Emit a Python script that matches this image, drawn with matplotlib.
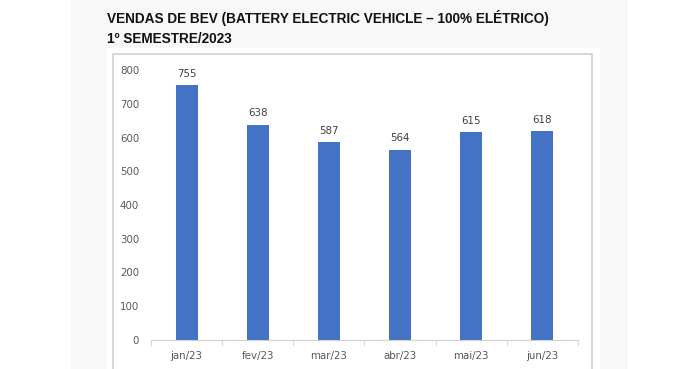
import matplotlib.pyplot as plt
from matplotlib.patches import Rectangle

months = ['jan/23', 'fev/23', 'mar/23', 'abr/23', 'mai/23', 'jun/23']
sales = [755, 638, 587, 564, 615, 618]
y_ticks = [0, 100, 200, 300, 400, 500, 600, 700, 800]

W, H = 700, 369
fig = plt.figure(figsize=(W / 100, H / 100), dpi=100)


def px_rect(x0, y0, x1, y1, **kw):
  # rectangle given in image pixels (top-left origin)
  return Rectangle((x0 / W, 1 - y1 / H), (x1 - x0) / W, (y1 - y0) / H,
                   transform=fig.transFigure, figure=fig, **kw)


# page background bands
fig.patches.append(px_rect(71, 0, 628, H, facecolor='#f8f8f8', edgecolor='none', zorder=-3))
fig.patches.append(px_rect(107, 48, 600, H + 5, facecolor='white', edgecolor='none', zorder=-2))
fig.patches.append(px_rect(113, 54, 592, H + 5, facecolor='white', edgecolor='#d0d0d0', linewidth=1.2, zorder=-1))

fig.text(107 / W, 1 - 18 / H, 'VENDAS DE BEV (BATTERY ELECTRIC VEHICLE – 100% ELÉTRICO)',
         fontfamily='Liberation Sans', fontweight='bold', fontsize=9.85, color='#111111', va='center')
fig.text(107 / W, 1 - 39 / H, '1º SEMESTRE/2023',
         fontfamily='Liberation Sans', fontweight='bold', fontsize=9.85, color='#111111', va='center')

ax = fig.add_axes([151 / W, 1 - 340 / H, (578 - 151) / W, (340 - 70) / H])
ax.set_facecolor('none')

x = range(len(months))
bars = ax.bar(x, sales, width=0.31, color='#4472C4', zorder=2)
for b, v in zip(bars, sales):
  ax.annotate(str(v), (b.get_x() + b.get_width() / 2, v), xytext=(0, 4.5),
              textcoords='offset points', ha='center', va='bottom',
              fontsize=7.4, color='#404040', fontfamily='DejaVu Sans')

ax.set_xlim(-0.5, len(months) - 0.5)
ax.set_ylim(0, 800)
ax.set_yticks(y_ticks)
ax.set_xticks(list(x))
ax.set_xticklabels(months)
ax.set_xticks([i - 0.5 for i in range(len(months) + 1)], minor=True)

for s in ['top', 'right', 'left']:
  ax.spines[s].set_visible(False)
ax.spines['bottom'].set_color('#d0d0d0')
ax.tick_params(axis='y', length=0, pad=8.5, labelsize=7.4, labelcolor='#595959')
ax.tick_params(axis='x', which='major', length=0, pad=8, labelsize=7.4, labelcolor='#595959')
ax.tick_params(axis='x', which='minor', length=4, color='#d0d0d0')

fig.savefig('out.png', dpi=100)
